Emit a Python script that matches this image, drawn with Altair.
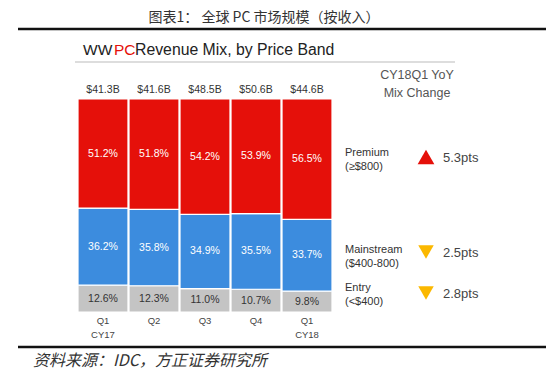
import altair as alt
import pandas as pd

quarters = ["Q1 CY17", "Q2 CY17", "Q3 CY17", "Q4 CY17", "Q1 CY18"]
quarter_labels = ["Q1\nCY17", "Q2", "Q3", "Q4", "Q1\nCY18"]
premium = [51.2, 51.8, 54.2, 53.9, 56.5]
mainstream = [36.2, 35.8, 34.9, 35.5, 33.7]
entry = [12.6, 12.3, 11.0, 10.7, 9.8]
totals = ["$41.3B", "$41.6B", "$48.5B", "$50.6B", "$44.6B"]

bands = ["Entry", "Mainstream", "Premium"]
band_colors = ["#C4C4C4", "#3C8CDE", "#E5100A"]
label_colors = ["#333333", "#FFFFFF", "#FFFFFF"]

legend_names = ["Premium\n(≥$800)", "Mainstream\n($400-800)", "Entry\n(<$400)"]
legend_changes = ["5.3pts", "2.5pts", "2.8pts"]
legend_shapes = ["triangle-up", "triangle-down", "triangle-down"]
legend_colors = ["#E5100A", "#FBB800", "#FBB800"]

rows = []
for i, q in enumerate(quarters):
    for j, (b, vals) in enumerate(zip(bands, [entry, mainstream, premium])):
        rows.append({"q": q, "band": b, "order": j, "value": vals[i],
                     "label": f"{vals[i]:.1f}%", "lc": label_colors[j]})
df = pd.DataFrame(rows)
tot_df = pd.DataFrame({"q": quarters, "total": totals, "ql": quarter_labels})

xscale = alt.Scale(domain=quarters, range=[70, 324], paddingInner=0.02, paddingOuter=0)
yscale = alt.Scale(domain=[0, 1], range=[304, 91])
x = alt.X("q:N", scale=xscale, axis=None, sort=quarters)

base = alt.Chart(df).transform_stack(
    stack="value", groupby=["q"], as_=["y0", "y1"],
    sort=[alt.SortField("order", "ascending")], offset="normalize"
).transform_calculate(mid="(datum.y0 + datum.y1) / 2")

bars = base.mark_bar(stroke="white", strokeWidth=1.2).encode(
    x=x,
    y=alt.Y("y0:Q", scale=yscale, axis=None),
    y2="y1:Q",
    color=alt.Color("band:N", scale=alt.Scale(domain=bands, range=band_colors), legend=None),
)
pct = base.mark_text(fontSize=10.5, font="Liberation Sans").encode(
    x=x,
    y=alt.Y("mid:Q", scale=yscale, axis=None),
    text="label:N",
    color=alt.Color("lc:N", scale=None),
)

tot = alt.Chart(tot_df).mark_text(fontSize=10.5, font="Liberation Sans", color="#333333").encode(
    x=x, y=alt.value(82), text="total:N")
qlab = alt.Chart(tot_df).transform_calculate(
    qq="split(datum.ql, '\\n')"
).mark_text(fontSize=9.5, font="Liberation Sans", color="#444444", baseline="top", lineHeight=14).encode(
    x=x, y=alt.value(308), text="qq:N")

# text annotations
def txt(s, x0, y0, size, color="#333333", align="left", font="Liberation Sans", baseline="middle", **kw):
    return alt.Chart(pd.DataFrame({"t": [s]})).mark_text(
        align=align, baseline=baseline, fontSize=size, color=color, font=font, **kw
    ).encode(x=alt.value(x0), y=alt.value(y0), text="t:N")

title = txt("图表1：   全球 PC 市场规模（按收入）", 256, 3, 14, color="#333333", align="center",
            font="Noto Sans CJK SC", baseline="top")
sub1 = txt("WW", 75, 42, 15.5, color="#222222", fontWeight=500)
sub2 = txt("PC", 106, 42, 15.5, color="#E5100A", fontWeight=500)
sub3 = txt("Revenue Mix, by Price Band", 127, 42, 15.8, color="#222222", fontWeight=500)
hdr = txt("CY18Q1 YoY", 409, 67, 12.5, color="#555555", align="center")
hdr2 = txt("Mix Change", 409, 85, 12.5, color="#555555", align="center")
footer = txt("资料来源：IDC，方正证券研究所", 25, 353, 16, color="#333333",
             font="Noto Sans CJK SC", fontStyle="italic")

line_top = alt.Chart(pd.DataFrame({"a": [0]})).mark_rule(color="#111111", strokeWidth=2.5).encode(
    x=alt.value(10), x2=alt.value(538), y=alt.value(21))
line_bot = alt.Chart(pd.DataFrame({"a": [0]})).mark_rule(color="#111111", strokeWidth=2.5).encode(
    x=alt.value(10), x2=alt.value(538), y=alt.value(339))
line_sub = alt.Chart(pd.DataFrame({"a": [0]})).mark_rule(color="#BBBBBB", strokeWidth=1).encode(
    x=alt.value(67), x2=alt.value(447), y=alt.value(54))

leg_y = [152, 249, 287]
leg_tri_y = [149, 244, 285]
legend_layers = []
for i in range(3):
    legend_layers.append(
        alt.Chart(pd.DataFrame({"t": [legend_names[i]]})).transform_calculate(
            tt="split(datum.t, '\\n')"
        ).mark_text(align="left", baseline="middle", fontSize=11, color="#333333",
                    font="Liberation Sans", lineHeight=14).encode(
            x=alt.value(337), y=alt.value(leg_y[i] - 7), text="tt:N")
    )
    legend_layers.append(
        alt.Chart(pd.DataFrame({"s": [legend_shapes[i]]})).mark_point(
            filled=True, size=280 if i == 0 else 240, opacity=1, color=legend_colors[i],
            shape=legend_shapes[i]).encode(x=alt.value(418), y=alt.value(leg_tri_y[i]))
    )
    legend_layers.append(txt(legend_changes[i], 435, leg_tri_y[i] + 1, 13, color="#444444"))

chart = alt.layer(
    line_top, line_bot, line_sub, bars, pct, tot, qlab, title, sub1, sub2, sub3, hdr, hdr2, footer,
    *legend_layers
).properties(
    width=538, height=365, padding=0, autosize=alt.AutoSizeParams(type="none"),
    background="white"
).configure_view(stroke=None)

chart.save("out.html", embed_options={"renderer": "svg", "actions": False})
